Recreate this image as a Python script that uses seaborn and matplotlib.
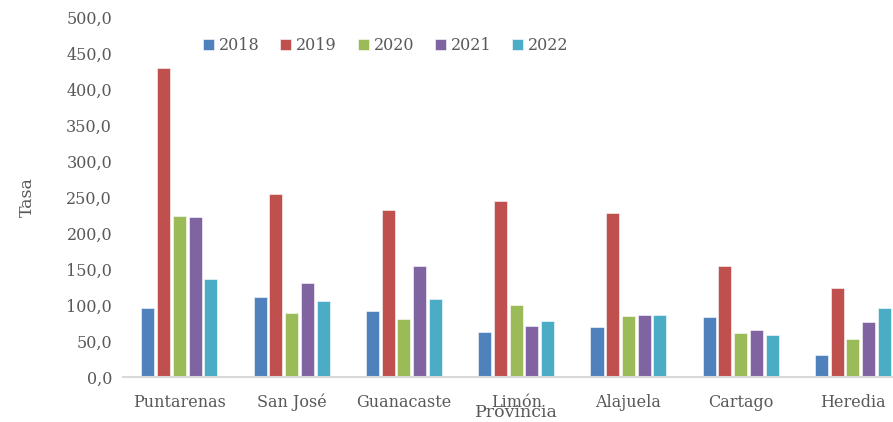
import numpy as np
import pandas as pd
import matplotlib.pyplot as plt
import seaborn as sns
from matplotlib.ticker import FuncFormatter

# ── Data ─────────────────────────────────────────────────────────
provincias = ['Puntarenas', 'San José', 'Guanacaste', 'Limón', 'Alajuela', 'Cartago', 'Heredia']
years = ['2018', '2019', '2020', '2021', '2022']
v2018 = [96, 111, 92, 62, 69, 83, 30]
v2019 = [429, 254, 232, 244, 228, 154, 124]
v2020 = [224, 89, 81, 100, 85, 61, 53]
v2021 = [222, 131, 154, 71, 86, 65, 76]
v2022 = [136, 106, 108, 78, 86, 58, 96]
colors = ['#4F81BD', '#C0504D', '#9BBB59', '#8064A2', '#4BACC6']

df = pd.DataFrame({
    'Provincia': provincias * 5,
    'Año': np.repeat(years, len(provincias)),
    'Tasa': v2018 + v2019 + v2020 + v2021 + v2022,
})

# ── Style ────────────────────────────────────────────────────────
sns.set_style('white')
plt.rcParams['font.family'] = ['DejaVu Serif']
txt = '#595959'

fig = plt.figure(figsize=(8.93, 4.22), dpi=100)
# plot area runs a little past the right edge, as in the original
ax = fig.add_axes([0.138, 0.107, 0.88, 0.853])

sns.barplot(data=df, x='Provincia', y='Tasa', hue='Año', palette=colors,
            saturation=1, width=0.70, gap=0.17, ax=ax,
            edgecolor='white', linewidth=0.4)

ax.set_ylim(0, 500)
ax.set_yticks(np.arange(0, 501, 50))
ax.yaxis.set_major_formatter(FuncFormatter(lambda v, p: f'{v:.1f}'.replace('.', ',')))
ax.tick_params(axis='both', colors=txt, labelsize=11.5, length=0)
ax.tick_params(axis='x', pad=12)
ax.tick_params(axis='y', pad=8)

for s in ['top', 'right', 'left']:
    ax.spines[s].set_visible(False)
ax.spines['bottom'].set_color('#D9D9D9')
ax.spines['bottom'].set_linewidth(1.5)

ax.set_xlabel('Provincia', fontsize=12.5, color=txt, labelpad=-5)
ax.set_ylabel('Tasa', fontsize=12.5, color=txt, labelpad=22)

leg = ax.legend(loc='center', bbox_to_anchor=(0.334, 0.92), ncol=5,
                frameon=False, fontsize=11.5, handlelength=0.7, handleheight=0.7,
                handletextpad=0.3, columnspacing=1.3)
for t in leg.get_texts():
    t.set_color(txt)

plt.savefig('out.png', dpi=100)
